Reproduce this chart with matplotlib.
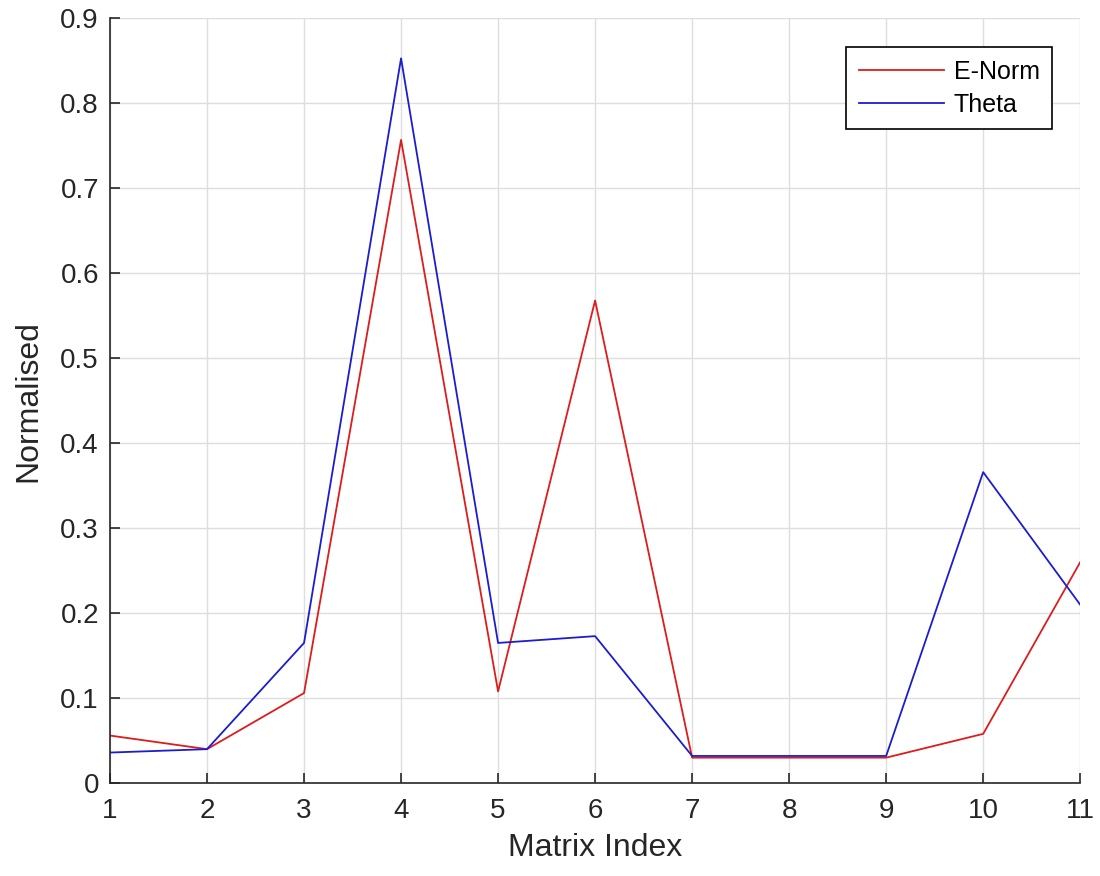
import matplotlib
matplotlib.use("Agg")
import matplotlib.pyplot as plt

# -----------------------------
# data
# -----------------------------
matrix_index = [1, 2, 3, 4, 5, 6, 7, 8, 9, 10, 11]
e_norm = [0.056, 0.040, 0.106, 0.757, 0.108, 0.568, 0.030, 0.030, 0.030, 0.058, 0.260]
theta = [0.036, 0.040, 0.165, 0.853, 0.165, 0.173, 0.032, 0.032, 0.032, 0.366, 0.210]
y_ticks = [0, 0.1, 0.2, 0.3, 0.4, 0.5, 0.6, 0.7, 0.8, 0.9]

plt.rcParams['font.family'] = ['Liberation Sans', 'DejaVu Sans']

fig = plt.figure(figsize=(11, 8.76), dpi=100)
ax = fig.add_axes([0.1, 0.106, 0.882, 0.873])

ax.plot(matrix_index, e_norm, color='#dd1c1c', lw=1.3, label='E-Norm')
ax.plot(matrix_index, theta, color='#1c1cd0', lw=1.3, label='Theta')

ax.set_xlim(1, 11)
ax.set_ylim(0, 0.9)
ax.set_xticks(matrix_index)
ax.set_yticks(y_ticks)
ax.set_yticklabels([f"{v:g}" for v in y_ticks])
ax.grid(True, color='#dedede', lw=1)
ax.tick_params(direction='in', length=7, width=1.2, labelsize=20, colors='#262626')
ax.tick_params(axis='x', pad=11)
ax.tick_params(axis='y', pad=8)
for s in ['top', 'right']:
    ax.spines[s].set_visible(False)
for s in ['left', 'bottom']:
    ax.spines[s].set_color('#262626')
    ax.spines[s].set_linewidth(1.2)

ax.set_xlabel("Matrix Index", fontsize=23, color='#262626', labelpad=6)
ax.set_ylabel("Normalised", fontsize=23, color='#262626', labelpad=12)

leg = ax.legend(loc='upper right', bbox_to_anchor=(0.971, 0.962), borderaxespad=0,
                fontsize=18, fancybox=False, framealpha=1, edgecolor='black',
                handlelength=3.4, handletextpad=0.4, labelspacing=0.35, borderpad=0.5)
leg.get_frame().set_linewidth(1.2)

fig.savefig("out.png", dpi=100)
